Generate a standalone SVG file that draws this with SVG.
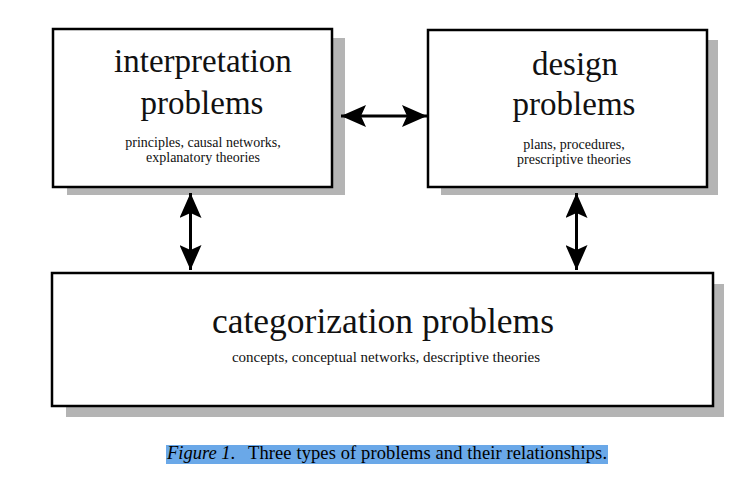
<svg xmlns="http://www.w3.org/2000/svg" width="756" height="484" viewBox="0 0 756 484">
<style>
.shadow{fill:#b4b4b4}
.box{fill:#fff;stroke:#000;stroke-width:2.5}
.t{font-family:"Liberation Serif","Times New Roman",serif;fill:#111;text-anchor:middle}
.big{font-size:33px}
.small{font-size:14px}
.line{stroke:#000;stroke-width:3;fill:none}
.cap{font-family:"Liberation Serif","Times New Roman",serif;font-size:18.5px;fill:#000}
</style>
<defs>
<marker id="ah" viewBox="0 0 25 22" refX="25" refY="11" markerWidth="25" markerHeight="22" markerUnits="userSpaceOnUse" orient="auto-start-reverse">
<path d="M0,0 L25,11 L0,22 L5,11 Z" fill="#000"/>
</marker>
</defs>
<rect width="756" height="484" fill="#fff"/>
<g id="interpretation">
<rect class="shadow" x="67" y="38" width="278" height="157"/>
<rect class="box" x="53" y="29" width="279" height="158"/>
<text class="t big" x="203" y="72">interpretation</text>
<text class="t big" x="202" y="114">problems</text>
<text class="t small" x="203" y="147">principles, causal networks,</text>
<text class="t small" x="203" y="162">explanatory theories</text>
</g>
<g id="design">
<rect class="shadow" x="441" y="40" width="277" height="155"/>
<rect class="box" x="428" y="30" width="279" height="157"/>
<text class="t big" x="575" y="75">design</text>
<text class="t big" x="574" y="115">problems</text>
<text class="t small" x="574" y="149">plans, procedures,</text>
<text class="t small" x="574" y="164">prescriptive theories</text>
</g>
<g id="categorization">
<rect class="shadow" x="66" y="284" width="658" height="133"/>
<rect class="box" x="52" y="273" width="661" height="133"/>
<text class="t" style="font-size:35.5px" x="383" y="333">categorization problems</text>
<text class="t" style="font-size:15px" x="386" y="362">concepts, conceptual networks, descriptive theories</text>
</g>
<g id="connectors">
<line class="line" x1="341" y1="116" x2="427" y2="116" marker-start="url(#ah)" marker-end="url(#ah)"/>
<line class="line" x1="190.5" y1="193" x2="190.5" y2="270" marker-start="url(#ah)" marker-end="url(#ah)"/>
<line class="line" x1="576.5" y1="193" x2="576.5" y2="270" marker-start="url(#ah)" marker-end="url(#ah)"/>
</g>
<g id="caption">
<rect x="166" y="445" width="442" height="19" fill="#6aa8e8"/>
<text class="cap" y="459"><tspan x="167" font-style="italic">Figure 1</tspan><tspan>.</tspan><tspan x="248" textLength="359" lengthAdjust="spacing">Three types of problems and their relationships.</tspan></text>
</g>
</svg>
